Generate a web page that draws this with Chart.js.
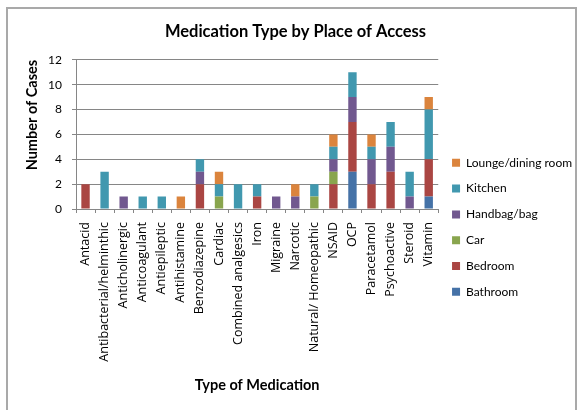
<!DOCTYPE html>
<html>
<head>
<meta charset="utf-8">
<script src="https://cdn.jsdelivr.net/npm/chart.js@4/dist/chart.umd.min.js"></script>
<style>
  html, body { margin: 0; padding: 0; background: #fff; }
  #wrap { position: relative; width: 581px; height: 410px; overflow: hidden; }
  #frame { position: absolute; left: 6px; top: 7px; width: 567px; height: 410px; border: 2px solid #a9a9a9; pointer-events: none; }
  canvas { position: absolute; left: 0; top: 0; }
</style>
</head>
<body>
<div id="wrap">
  <canvas id="main-canvas" width="581" height="410"></canvas>
  <div id="frame"></div>
</div>
<script>
// categories along the x axis
const medications = [
    'Antacid', 'Antibacterial/helminthic', 'Anticholinergic', 'Anticoagulant',
    'Antiepileptic', 'Antihistamine', 'Benzodiazepine', 'Cardiac',
    'Combined analgesics', 'Iron', 'Migraine', 'Narcotic', 'Natural/ Homeopathic',
    'NSAID', 'OCP', 'Paracetamol', 'Psychoactive', 'Steroid', 'Vitamin'
];

// number of cases per place of access (stacked bottom to top)
const bathroom = [0, 0, 0, 0, 0, 0, 0, 0, 0, 0, 0, 0, 0, 0, 3, 0, 0, 0, 1];
const bedroom  = [2, 0, 0, 0, 0, 0, 2, 0, 0, 1, 0, 0, 0, 2, 4, 2, 3, 0, 3];
const car      = [0, 0, 0, 0, 0, 0, 0, 1, 0, 0, 0, 0, 1, 1, 0, 0, 0, 0, 0];
const handbag  = [0, 0, 1, 0, 0, 0, 1, 0, 0, 0, 1, 1, 0, 1, 2, 2, 2, 1, 0];
const kitchen  = [0, 3, 0, 1, 1, 0, 1, 1, 2, 1, 0, 0, 1, 1, 2, 1, 2, 2, 4];
const lounge   = [0, 0, 0, 0, 0, 1, 0, 1, 0, 0, 0, 1, 0, 1, 0, 1, 0, 0, 1];

const yTicks = [0, 2, 4, 6, 8, 10, 12];

const gridGrey = '#868686';
const LEGEND_TOP = 143; // where the legend column starts

function series(label, data, color) {
    return {
        label: label,
        data: data,
        backgroundColor: color,
        borderWidth: 0,
        barPercentage: 0.44,
        categoryPercentage: 1
    };
}

const ctx = document.getElementById('main-canvas').getContext('2d');

const myChart = new Chart(ctx, {
    type: 'bar',
    data: {
        labels: medications,
        datasets: [
            series('Bathroom', bathroom, '#4572A7'),
            series('Bedroom', bedroom, '#AA4643'),
            series('Car', car, '#89A54E'),
            series('Handbag/bag', handbag, '#71588F'),
            series('Kitchen', kitchen, '#4198AF'),
            series('Lounge/dining room', lounge, '#DB843D')
        ]
    },
    plugins: [{
        id: 'legendShift',
        afterLayout: chart => {
            // drop the legend column down next to the plot like the original
            chart.legend.top = LEGEND_TOP;
        }
    }],
    options: {
        responsive: false,
        animation: false,
        layout: { padding: { left: 10, right: 0, top: 0, bottom: 0 } },
        plugins: {
            tooltip: { enabled: false },
            title: {
                display: true,
                text: 'Medication Type by Place of Access',
                color: '#000',
                font: { family: 'Lato', size: 16.5, weight: 'bold', lineHeight: 1.2 },
                padding: { top: 22, bottom: 18 }
            },
            legend: {
                position: 'right',
                align: 'start',
                reverse: true,
                labels: {
                    boxWidth: 8,
                    boxHeight: 8,
                    padding: 13.8,
                    color: '#000',
                    font: { family: 'Lato', size: 12 }
                }
            }
        },
        scales: {
            x: {
                stacked: true,
                grid: {
                    drawOnChartArea: false,
                    drawTicks: true,
                    tickLength: 4,
                    color: gridGrey,
                    offset: true
                },
                border: { color: gridGrey },
                ticks: {
                    autoSkip: false,
                    maxRotation: 90,
                    minRotation: 90,
                    padding: 9,
                    color: '#000',
                    font: { family: 'Open Sans', size: 12.5 }
                },
                title: {
                    display: true,
                    text: 'Type of Medication',
                    color: '#000',
                    font: { family: 'Lato', size: 14.5, weight: 'bold', lineHeight: 1.2 },
                    padding: { top: 0, bottom: 16 }
                },
                afterFit: scale => { scale.height = 201; }
            },
            y: {
                stacked: true,
                min: 0,
                max: 12,
                afterBuildTicks: axis => axis.ticks = yTicks.map(v => ({ value: v })),
                grid: {
                    color: gridGrey,
                    tickLength: 4
                },
                border: { color: gridGrey },
                ticks: {
                    padding: 10,
                    color: '#000',
                    font: { family: 'Lato', size: 12 }
                },
                title: {
                    display: true,
                    text: 'Number of Cases',
                    align: 'end',
                    color: '#000',
                    font: { family: 'Lato', size: 14.5, weight: 'bold', lineHeight: 1.2 },
                    padding: { top: 14, bottom: 0 }
                },
                afterFit: scale => { scale.width = 66; }
            }
        }
    }
});
</script>
</body>
</html>
